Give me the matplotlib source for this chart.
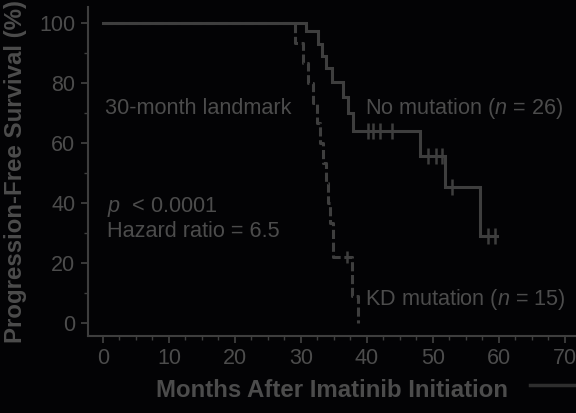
import matplotlib
matplotlib.use("Agg")
import matplotlib.pyplot as plt
from matplotlib.ticker import MultipleLocator
from matplotlib.lines import Line2D

plt.rcParams['font.family'] = ['Liberation Sans', 'DejaVu Sans']
plt.rcParams['mathtext.fontset'] = 'custom'
plt.rcParams['mathtext.rm'] = 'Liberation Sans'
plt.rcParams['mathtext.it'] = 'Liberation Sans:italic'

# --- data ---
nomut_t = [0, 30.8, 32.6, 33.2, 33.8, 34.7, 36.4, 37.2, 37.9, 48.0, 51.8, 57.1, 59.7]
nomut_s = [100, 97.5, 93.0, 89.0, 85.0, 80.5, 75.5, 70.0, 64.0, 55.7, 45.3, 28.9, 28.9]
nomut_cens_t = [40.2, 40.9, 42.0, 43.8, 49.2, 50.5, 51.4, 52.9, 58.3, 59.4]
nomut_cens_s = [64.0, 64.0, 64.0, 64.0, 55.7, 55.7, 55.7, 45.3, 28.9, 28.9]

kd_t = [0, 29.1, 30.3, 31.1, 31.8, 32.4, 32.9, 33.3, 33.8, 34.1, 34.4, 34.8, 37.7, 38.6]
kd_s = [100, 93.3, 86.7, 80.0, 73.3, 66.7, 60.0, 53.3, 46.7, 40.0, 33.3, 22.0, 9.0, 0.0]
kd_cens_t = [37.0]
kd_cens_s = [22.0]

xticks = [0, 10, 20, 30, 40, 50, 60, 70]
yticks = [0, 20, 40, 60, 80, 100]

BG = '#030305'
TXT = '#4c4c4c'
LN = '#3e3e3e'

fig = plt.figure(figsize=(5.76, 4.13), dpi=100, facecolor=BG)
ax = fig.add_axes([88/576, (413-336)/413, (576-88)/576, (336-7)/413])
ax.set_facecolor(BG)

ax.step(nomut_t, nomut_s, where='post', color=LN, lw=2.2, solid_joinstyle='miter')
ax.plot(nomut_cens_t, nomut_cens_s, linestyle='none', marker='|', ms=11, mew=1.8, color=LN)
ax.step(kd_t, kd_s, where='post', color=LN, lw=2.2, linestyle=(0, (3, 1.2)))
ax.plot(kd_cens_t, kd_cens_s, linestyle='none', marker='|', ms=9, mew=1.8, color=LN)

ax.set_xlim(-2.27, 71.7)
ax.set_ylim(-4.4, 105.4)
ax.set_xticks(xticks)
ax.set_yticks(yticks)
ax.xaxis.set_minor_locator(MultipleLocator(2.5))
ax.yaxis.set_minor_locator(MultipleLocator(10))

for s in ['top', 'right']:
    ax.spines[s].set_visible(False)
for s in ['left', 'bottom']:
    ax.spines[s].set_color(LN)
    ax.spines[s].set_linewidth(1.5)

ax.tick_params(which='major', length=5, width=1.3, color=LN, labelcolor=TXT, labelsize=15.5, pad=4)
ax.tick_params(which='minor', length=3, width=1.0, color=LN)

ax.set_xlabel('Months After Imatinib Initiation', fontsize=17.3, fontweight='bold', color=TXT, labelpad=7)
ax.set_ylabel('Progression-Free Survival (%)', fontsize=17.3, fontweight='bold', color=TXT, labelpad=9)

fs = 15.6
ax.text(0.3, 71.5, '30-month landmark', fontsize=fs, color=TXT, va='center', ha='left')
ax.text(39.7, 71.5, r'No mutation ($\it{n}$ = 26)', fontsize=fs, color=TXT, va='center', ha='left')
ax.text(0.6, 38.6, r'$\it{p}$  < 0.0001', fontsize=fs, color=TXT, va='center', ha='left')
ax.text(0.6, 30.5, 'Hazard ratio = 6.5', fontsize=fs, color=TXT, va='center', ha='left')
ax.text(39.7, 7.7, r'KD mutation ($\it{n}$ = 15)', fontsize=fs, color=TXT, va='center', ha='left')

fig.add_artist(Line2D([530/576, 1.0], [1-385/413, 1-385/413], color='#2e2e2e', lw=2.5))

fig.savefig('out.png', dpi=100, facecolor=BG)
